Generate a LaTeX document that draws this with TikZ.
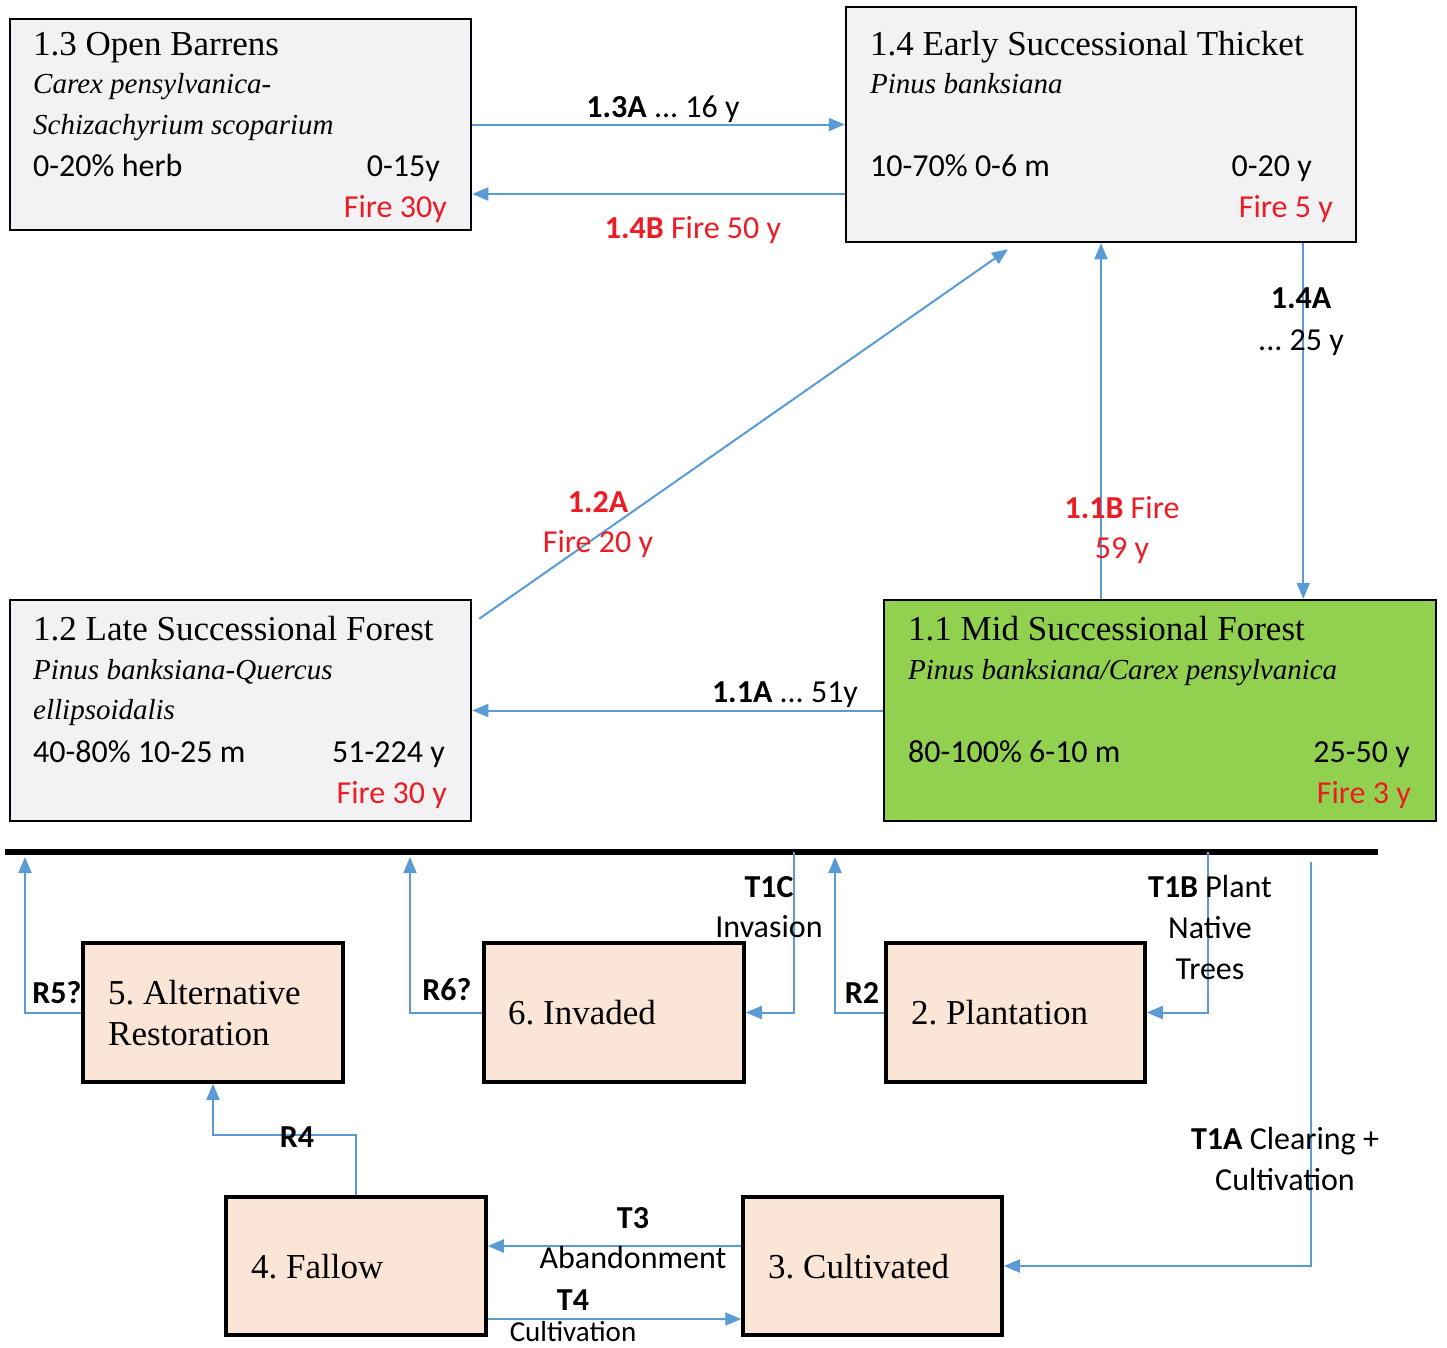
\documentclass[tikz,border=0pt]{standalone}
\usepackage{fontspec}
\setmainfont{Liberation Serif}
\newfontfamily\carl{Carlito}
\usetikzlibrary{arrows.meta,calc}
\definecolor{arrowblue}{RGB}{91,155,213}
\definecolor{boxgray}{RGB}{242,242,244}
\definecolor{peach}{RGB}{251,229,214}
\definecolor{forestgreen}{RGB}{146,208,80}
\definecolor{firered}{RGB}{235,28,36}
\frenchspacing
\begin{document}
\begin{tikzpicture}[x=1pt,y=-1pt,
  conn/.style={draw=arrowblue,line width=2pt,-{Triangle[length=16pt,width=13pt]}},
  gbox/.style={draw=black,line width=2.5pt,fill=boxgray,inner sep=0pt},
  pbox/.style={draw=black,line width=3.5pt,fill=peach,inner sep=0pt},
  ttl/.style={font=\fontsize{35}{40}\selectfont,anchor=base west,inner sep=0pt,yshift=-11pt},
  spc/.style={font=\fontsize{29}{34}\selectfont\itshape,anchor=base west,inner sep=0pt,yshift=-9pt},
  dat/.style={font=\carl\fontsize{32}{38}\selectfont,anchor=base west,inner sep=0pt,yshift=-10pt},
  datr/.style={dat,anchor=base east},
  lbl/.style={font=\carl\fontsize{32}{38}\selectfont,anchor=base,inner sep=0pt,yshift=-10pt},
  fire/.style={text=firered}
]
\useasboundingbox (0,0) rectangle (1447,1347);
\fill[white] (0,0) rectangle (1447,1347);

% ---------- upper boxes ----------
\node[gbox,minimum width=461pt,minimum height=211pt] (b13) at (240.5,124.5) {};
\node[gbox,minimum width=510pt,minimum height=235pt] (b14) at (1101,124.5) {};
\node[gbox,minimum width=461pt,minimum height=221pt] (b12) at (240.5,710.5) {};
\node[gbox,fill=forestgreen,minimum width=552pt,minimum height=221pt] (b11) at (1160,710.5) {};

% 1.3 texts
\node[ttl] (t13a) at (33,44) {1.3 Open Barrens};
\node[spc] (t13b) at (33,84) {Carex pensylvanica-};
\node[spc] (t13c) at (33,125) {Schizachyrium scoparium};
\node[dat] (t13d) at (33,166) {0-20\% herb};
\node[datr] (t13e) at (440,166) {0-15y};
\node[datr,fire] (t13f) at (447,207) {Fire 30y};

% 1.4 texts
\node[ttl] (t14a) at (870,44) {1.4 Early Successional Thicket};
\node[spc] (t14b) at (870,84) {Pinus banksiana};
\node[dat] (t14c) at (870,166) {10-70\% 0-6 m};
\node[datr] (t14d) at (1312,166) {0-20 y};
\node[datr,fire] (t14e) at (1333,207) {Fire 5 y};

% 1.2 texts
\node[ttl] (t12a) at (33,629) {1.2 Late Successional Forest};
\node[spc] (t12b) at (33,670) {Pinus banksiana-Quercus};
\node[spc] (t12c) at (33,710) {ellipsoidalis};
\node[dat] (t12d) at (33,752) {40-80\% 10-25 m};
\node[datr] (t12e) at (445,752) {51-224 y};
\node[datr,fire] (t12f) at (447,793) {Fire 30 y};

% 1.1 texts
\node[ttl] (t11a) at (908,629) {1.1 Mid Successional Forest};
\node[spc] (t11b) at (908,670) {Pinus banksiana/Carex pensylvanica};
\node[dat] (t11c) at (908,752) {80-100\% 6-10 m};
\node[datr] (t11d) at (1410,752) {25-50 y};
\node[datr,fire] (t11e) at (1411,793) {Fire 3 y};

% ---------- upper connectors ----------
\draw[conn] (b13.east) -- (b14.west);
\draw[conn] ([yshift=-69.5pt]b14.west) -- ([yshift=-69.5pt]b13.east);
\draw[conn] ([xshift=7pt,yshift=-20pt]b12.north east) -- ([xshift=-93pt,yshift=-6pt]b14.south);
\draw[conn] (b14.south |- b11.north) -- (b14.south);
\draw[conn] ([xshift=-54pt]b14.south east) -- ([xshift=-54pt]b14.south east |- b11.north);
\draw[conn] (b11.west) -- (b12.east);

\node[lbl] (l13a) at (663,107) {\textbf{1.3A} ... 16 y};
\node[lbl,fire] (l14b) at (693,228) {\textbf{1.4B} Fire 50 y};
\node[lbl,fire] (l12a1) at (598,502) {\textbf{1.2A}};
\node[lbl,fire] (l12a2) at (598,542) {Fire 20 y};
\node[lbl,fire] (l11b1) at (1122,508) {\textbf{1.1B} Fire};
\node[lbl,fire] (l11b2) at (1122,548) {59 y};
\node[lbl] (l14a1) at (1301,298) {\textbf{1.4A}};
\node[lbl] (l14a2) at (1301,340) {... 25 y};
\node[lbl] (l11a) at (785,692) {\textbf{1.1A} ... 51y};

% ---------- divider ----------
\coordinate (hl1) at (5,852);
\coordinate (hl2) at (1378,852);
\draw[line width=6pt] (hl1) -- (hl2);

% ---------- lower boxes ----------
\node[pbox,minimum width=260pt,minimum height=139pt] (b5) at (213,1012.5) {};
\node[pbox,minimum width=260pt,minimum height=139pt] (b6) at (614,1012.5) {};
\node[pbox,minimum width=259pt,minimum height=139pt] (b2) at (1015.5,1012.5) {};
\node[pbox,minimum width=260pt,minimum height=138pt] (b4) at (356,1266) {};
\node[pbox,minimum width=259pt,minimum height=138pt] (b3) at (872.5,1266) {};

\node[ttl] (t5a) at (108,993) {5. Alternative};
\node[ttl] (t5b) at (108,1034) {Restoration};
\node[ttl] (t6) at (508,1013) {6. Invaded};
\node[ttl] (t2) at (911,1013) {2. Plantation};
\node[ttl] (t4) at (251,1267) {4. Fallow};
\node[ttl] (t3) at (768,1267) {3. Cultivated};

% ---------- lower connectors ----------
\coordinate (r5top) at (25,857);
\coordinate (r6top) at (410,857);
\coordinate (r2top) at (835,857);
\coordinate (t1ctop) at (794,852);
\coordinate (t1btop) at (1208,852);
\coordinate (t1atop) at (1311,862);

\draw[conn] (b5.west) -| (r5top);
\draw[conn] (b6.west) -| (r6top);
\draw[conn] (b2.west) -| (r2top);
\draw[conn] (t1ctop) |- (b6.east);
\draw[conn] (t1btop) |- (b2.east);
\draw[conn] (t1atop) |- (b3.east);
\draw[conn] (b4.north) -- ++(0,-60) -| (b5.south);
\draw[conn] ([yshift=20pt]b3.west) -- ([yshift=20pt]b4.east);
\draw[conn] ([yshift=-53pt]b4.east) -- ([yshift=-53pt]b3.west);

\node[lbl] (lr5) at (57,993) {\textbf{R5?}};
\node[lbl] (lr6) at (447,990) {\textbf{R6?}};
\node[lbl] (lt1c1) at (769,887) {\textbf{T1C}};
\node[lbl] (lt1c2) at (769,927) {Invasion};
\node[lbl] (lr2) at (862,993) {\textbf{R2}};
\node[lbl] (lt1b1) at (1210,887) {\textbf{T1B} Plant};
\node[lbl] (lt1b2) at (1210,928) {Native};
\node[lbl] (lt1b3) at (1210,969) {Trees};
\node[lbl] (lt1a1) at (1285,1139) {\textbf{T1A} Clearing +};
\node[lbl] (lt1a2) at (1285,1180) {Cultivation};
\node[lbl] (lr4) at (297,1137) {\textbf{R4}};
\node[lbl] (lt31) at (633,1218) {\textbf{T3}};
\node[lbl] (lt32) at (633,1258) {Abandonment};
\node[lbl] (lt41) at (573,1300) {\textbf{T4}};
\node[font=\carl\fontsize{29}{34}\selectfont,anchor=base,inner sep=0pt] (lt42) at (573,1341) {Cultivation};
\end{tikzpicture}
\end{document}
